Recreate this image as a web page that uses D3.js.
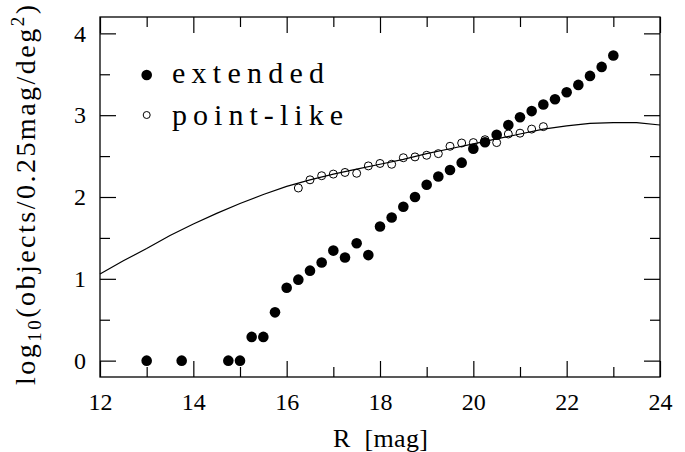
<!DOCTYPE html>
<html>
<head>
<meta charset="utf-8">
<script src="https://cdn.jsdelivr.net/npm/d3@7"></script>
<style>
body{ margin:0; background:#fff; }
.chart text{ font-family:"Liberation Serif", serif; fill:#000; white-space:pre; }
.axis path{ display:none; }
.axis line{ stroke:#000; stroke-width:1.2; }
</style>
</head>
<body>
<svg class="chart" width="685" height="452"></svg>

<script>

/// Extended sources (filled circles)
var extR = [13.0, 13.75, 14.75, 15.0, 15.25, 15.5, 15.75, 16.0, 16.25, 16.5, 16.75, 17.0, 17.25, 17.5, 17.75,
            18.0, 18.25, 18.5, 18.75, 19.0, 19.25, 19.5, 19.75, 20.0, 20.25, 20.5, 20.75, 21.0, 21.25, 21.5,
            21.75, 22.0, 22.25, 22.5, 22.75, 23.0];
var extLog = [0.0, 0.0, 0.0, 0.0, 0.29, 0.29, 0.59, 0.89, 0.99, 1.10, 1.20, 1.345, 1.26, 1.435, 1.29,
              1.64, 1.75, 1.88, 2.0, 2.15, 2.25, 2.33, 2.42, 2.59, 2.67, 2.76, 2.88, 2.975, 3.05, 3.13,
              3.195, 3.28, 3.37, 3.48, 3.59, 3.73];

/// Point-like sources (open circles)
var ptR = [16.25, 16.5, 16.75, 17.0, 17.25, 17.5, 17.75, 18.0, 18.25, 18.5, 18.75, 19.0, 19.25, 19.5,
           19.75, 20.0, 20.25, 20.5, 20.75, 21.0, 21.25, 21.5];
var ptLog = [2.11, 2.21, 2.26, 2.28, 2.30, 2.29, 2.38, 2.41, 2.40, 2.48, 2.49, 2.51, 2.53, 2.62,
             2.66, 2.665, 2.70, 2.665, 2.77, 2.78, 2.83, 2.86];

/// Model curve
var modelR = [12, 12.5, 13, 13.5, 14, 14.5, 15, 15.5, 16, 16.5, 17, 17.5, 18, 18.5, 19, 19.5, 20,
              20.5, 21, 21.5, 22, 22.5, 23, 23.5, 24];
var modelLog = [1.06, 1.22, 1.37, 1.53, 1.67, 1.80, 1.92, 2.03, 2.13, 2.21, 2.28, 2.34, 2.40, 2.46,
                2.53, 2.59, 2.65, 2.71, 2.77, 2.83, 2.87, 2.90, 2.91, 2.91, 2.88];

/// Ticks
var xMajor = [12, 14, 16, 18, 20, 22, 24];
var xMinor = [13, 15, 17, 19, 21, 23];
var yMajor = [0, 1, 2, 3, 4];
var yMinor = [0.5, 1.5, 2.5, 3.5];

var svg = d3.select(".chart");

var margin = {top: 17, right: 25, bottom: 75, left: 100};
var width = +svg.attr("width") - margin.left - margin.right;
var height = +svg.attr("height") - margin.top - margin.bottom;

var g = svg.append("g").attr("transform", "translate(" + margin.left + "," + margin.top + ")");

var x = d3.scaleLinear().domain([12, 24]).range([0, width]);
var y = d3.scaleLinear().domain([-0.2, 4.2]).range([height, 0]);

/// Axes: ticks point inward on all four sides
function ax(axisFn, scale, vals, len, labels){
    var a = axisFn(scale).tickValues(vals).tickSizeInner(-len).tickSizeOuter(0);
    a.tickFormat(labels ? d3.format("d") : "");
    return a;
}

g.append("g").attr("class", "axis").attr("transform", "translate(0," + height + ")")
    .call(ax(d3.axisBottom, x, xMajor, 16, true).tickPadding(16));
g.append("g").attr("class", "axis").attr("transform", "translate(0," + height + ")")
    .call(ax(d3.axisBottom, x, xMinor, 10, false));
g.append("g").attr("class", "axis").call(ax(d3.axisTop, x, xMajor, 16, false));
g.append("g").attr("class", "axis").call(ax(d3.axisTop, x, xMinor, 10, false));

g.append("g").attr("class", "axis")
    .call(ax(d3.axisLeft, y, yMajor, 16, true).tickPadding(14));
g.append("g").attr("class", "axis").call(ax(d3.axisLeft, y, yMinor, 10, false));
g.append("g").attr("class", "axis").attr("transform", "translate(" + width + ",0)")
    .call(ax(d3.axisRight, y, yMajor, 16, false));
g.append("g").attr("class", "axis").attr("transform", "translate(" + width + ",0)")
    .call(ax(d3.axisRight, y, yMinor, 10, false));

g.selectAll(".axis").attr("font-size", 24);

/// Frame
g.append("rect")
    .attr("width", width).attr("height", height)
    .attr("fill", "none").attr("stroke", "#000").attr("stroke-width", 1.3);

/// Model line
var line = d3.line()
    .x(function(d){ return x(d[0]); })
    .y(function(d){ return y(d[1]); });

g.append("path")
    .datum(d3.zip(modelR, modelLog))
    .attr("fill", "none")
    .attr("stroke", "#000")
    .attr("stroke-width", 1.2)
    .attr("d", line);

/// Points
g.append("g").selectAll("circle")
    .data(d3.zip(ptR, ptLog))
  .enter().append("circle")
    .attr("cx", function(d){ return x(d[0]); })
    .attr("cy", function(d){ return y(d[1]); })
    .attr("r", 4)
    .attr("fill", "none")
    .attr("stroke", "#000")
    .attr("stroke-width", 1);

g.append("g").selectAll("circle")
    .data(d3.zip(extR, extLog))
  .enter().append("circle")
    .attr("cx", function(d){ return x(d[0]); })
    .attr("cy", function(d){ return y(d[1]); })
    .attr("r", 5.3)
    .attr("fill", "#000");

/// Legend
svg.append("circle").attr("cx", 146.7).attr("cy", 75).attr("r", 5.3).attr("fill", "#000");
svg.append("circle").attr("cx", 146.7).attr("cy", 115).attr("r", 3.5)
    .attr("fill", "none").attr("stroke", "#000").attr("stroke-width", 1);

svg.append("text").attr("x", 172).attr("y", 83)
    .attr("font-size", 30)
    .attr("textLength", 152).attr("lengthAdjust", "spacing")
    .text("extended");
svg.append("text").attr("x", 172).attr("y", 125)
    .attr("font-size", 30)
    .attr("textLength", 171).attr("lengthAdjust", "spacing")
    .text("point-like");

/// Axis titles
svg.append("text")
    .attr("x", 333).attr("y", 447)
    .attr("font-size", 26)
    .attr("textLength", 95).attr("lengthAdjust", "spacing")
    .text("R  [mag]");

var yl = svg.append("text")
    .attr("transform", "translate(35,385) rotate(-90)")
    .attr("font-size", 28)
    .attr("textLength", 380).attr("lengthAdjust", "spacing");
yl.append("tspan").text("log");
yl.append("tspan").attr("dy", 6).attr("font-size", 19).text("10");
yl.append("tspan").attr("dy", -6).text("(objects/0.25mag/deg");
yl.append("tspan").attr("dy", -11).attr("font-size", 19).text("2");
yl.append("tspan").attr("dy", 11).text(")");

</script>
</body>
</html>
